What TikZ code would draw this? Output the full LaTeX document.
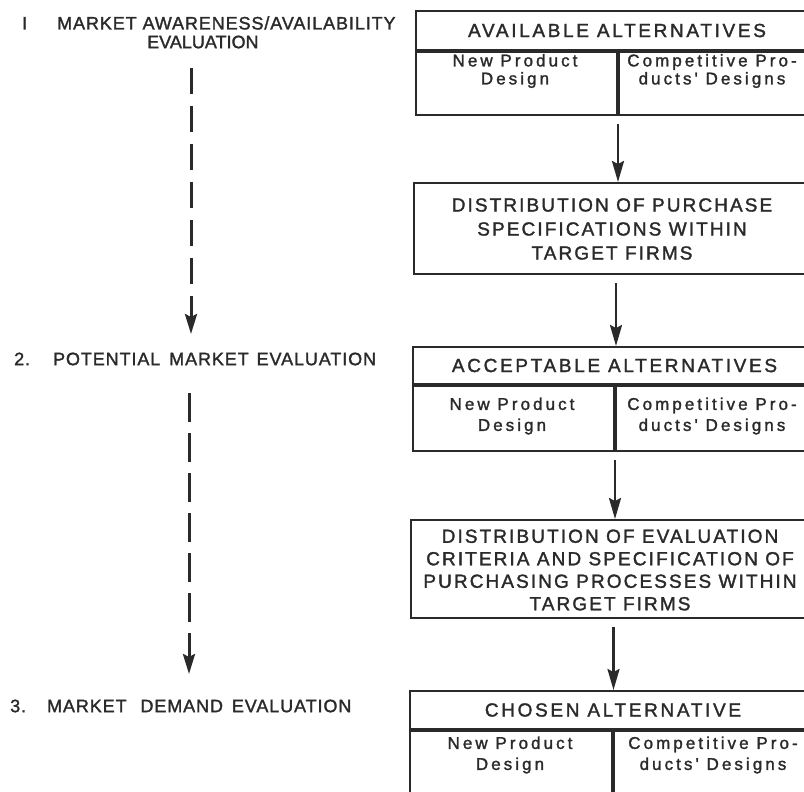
\documentclass[tikz,border=0pt]{standalone}
\usepackage{fontspec}
\setmainfont{Liberation Sans}
\newfontfamily\capsfont[LetterSpace=11,FakeBold=1.6]{Liberation Sans}
\newfontfamily\titlefont[LetterSpace=14,FakeBold=1.6]{Liberation Sans}
\newfontfamily\lowfont[LetterSpace=18,FakeBold=1.6]{Liberation Sans}
\newfontfamily\leftfont[LetterSpace=5,FakeBold=1.6]{Liberation Sans}
\newfontfamily\leftcond[LetterSpace=0,FakeBold=1.6]{Liberation Sans}
\usetikzlibrary{arrows.meta}
\definecolor{inkc}{HTML}{2A2A2A}
\begin{document}
\begin{tikzpicture}[x=1pt,y=-1pt,
  frame/.style={draw=inkc, line width=2pt, anchor=north west, inner sep=0pt},
  titlebox/.style={frame, text=inkc, font=\titlefont\fontsize{19}{24}\selectfont},
  capstext/.style={text=inkc, font=\capsfont\fontsize{19}{23}\selectfont, align=center, inner sep=0pt},
  celltext/.style={text=inkc, font=\lowfont\fontsize{17}{21}\selectfont, align=center, inner sep=0pt},
  leftlab/.style={text=inkc, font=\leftfont\fontsize{18}{22}\selectfont, anchor=west, inner sep=0pt},
  flow/.style={draw=inkc, line width=2.4pt, shorten <=8pt, -{Stealth[length=21pt,width=12pt,inset=3pt]}},
  phase/.style={draw=inkc, line width=3pt, -{Stealth[length=20pt,width=12pt,inset=3pt]}}]
\useasboundingbox (0,0) rectangle (804,792);

% ---- box 1: available alternatives
\node[titlebox, minimum width=402pt, minimum height=39pt] (t1) at (415,10) {AVAILABLE ALTERNATIVES};
\node[frame, minimum width=201pt, minimum height=63pt] (n1) at (t1.south west) {};
\node[frame, minimum width=201pt, minimum height=63pt] (c1) at (n1.north east) {};
\node[celltext, font=\lowfont\fontsize{17}{18}\selectfont] (n1t) at (515,71) {New Product\\Design};
\node[celltext, font=\lowfont\fontsize{17}{18}\selectfont] (c1t) at (712,71) {Competitive Pro-\\ducts' Designs};

% ---- box 2
\node[frame, minimum width=404pt, minimum height=91pt] (b2) at (413,182) {};
\node[capstext, font=\capsfont\fontsize{19}{24}\selectfont] (b2t) at (612,229) {DISTRIBUTION OF PURCHASE\\SPECIFICATIONS WITHIN\\TARGET FIRMS};

% ---- box 3: acceptable alternatives
\node[titlebox, minimum width=403pt, minimum height=37pt] (t3) at (412,346) {ACCEPTABLE ALTERNATIVES};
\node[frame, minimum width=201pt, minimum height=65pt] (n3) at (t3.south west) {};
\node[frame, minimum width=202pt, minimum height=65pt] (c3) at (n3.north east) {};
\node[celltext] (n3t) at (512,416) {New Product\\Design};
\node[celltext] (c3t) at (712,416) {Competitive Pro-\\ducts' Designs};

% ---- box 4
\node[frame, minimum width=405pt, minimum height=98pt] (b4) at (410,519) {};
\node[capstext, font=\capsfont\fontsize{19}{22.5}\selectfont] (b4t) at (610,570) {DISTRIBUTION OF EVALUATION\\CRITERIA AND SPECIFICATION OF\\PURCHASING PROCESSES WITHIN\\TARGET FIRMS};

% ---- box 5: chosen alternative
\node[titlebox, minimum width=406pt, minimum height=38pt] (t5) at (409,690) {CHOSEN ALTERNATIVE};
\node[frame, minimum width=202pt, minimum height=72pt] (n5) at (t5.south west) {};
\node[frame, minimum width=204pt, minimum height=72pt] (c5) at (n5.north east) {};
\node[celltext] (n5t) at (510,755) {New Product\\Design};
\node[celltext] (c5t) at (713,755) {Competitive Pro-\\ducts' Designs};

% ---- flow arrows
\draw[flow] (n1.south east) -- (n1.south east |- b2.north);
\draw[flow] (b2.south) -- (b2.south |- t3.north);
\draw[flow] (n3.south east) -- (n3.south east |- b4.north);
\draw[flow] (b4.south) -- (b4.south |- t5.north);

% ---- left phase labels
\node[leftlab] (p1) at (22,23) {I\hspace{30pt}MARKET AWARENESS/AVAILABILITY};
\node[leftlab, font=\leftcond\fontsize{18}{22}\selectfont] (p1b) at (147,42) {EVALUATION};
\node[leftlab] (p2) at (14,359) {2.\hspace{23pt}POTENTIAL\hspace{3pt} MARKET\hspace{2pt} EVALUATION};
\node[leftlab] (p3) at (10,706) {3.\hspace{21pt}MARKET\hspace{8pt} DEMAND\hspace{3pt} EVALUATION};

\coordinate (d1s) at (191,68);
\coordinate (d1e) at (191,334);
\coordinate (d2s) at (189,393);
\coordinate (d2e) at (189,674);
\draw[phase, dash pattern=on 26pt off 12pt] (d1s) -- (d1e);
\draw[phase, dash pattern=on 29pt off 11pt] (d2s) -- (d2e);
\end{tikzpicture}
\end{document}
